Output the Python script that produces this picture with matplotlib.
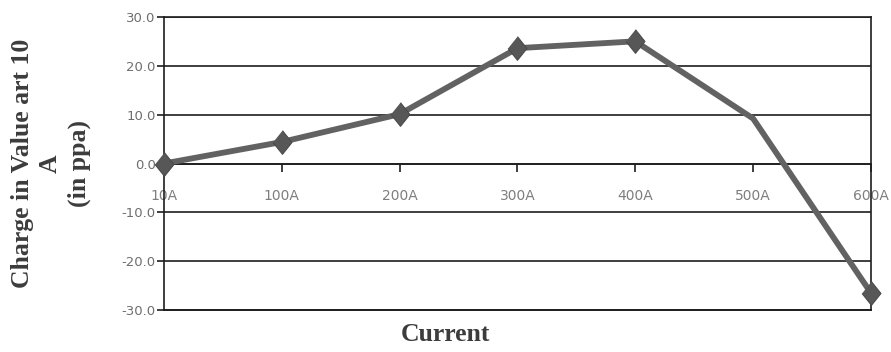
import numpy as np
from matplotlib import pyplot as plt

# data
currents = ['10A', '100A', '200A', '300A', '400A', '500A', '600A']
change = [0.0, 4.4, 10.1, 23.6, 25.0, 9.2, -26.5]
y_ticks = [-30, -20, -10, 0, 10, 20, 30]

LINE_C = '#626262'
GRID_C = '#1e1e1e'
TEXT_C = '#3c3c3c'

fig = plt.figure(figsize=(8.91, 3.52), dpi=100)
ax = fig.add_axes([0.184, 0.119, 0.7935, 0.833])

x = np.arange(len(currents))
diamond = [(0, 1), (0.8, 0), (0, -1), (-0.8, 0)]
# the scan shows no marker at 500A
ax.plot(x, change, color=LINE_C, lw=4.2, marker=diamond, ms=17,
        mfc='#575757', mec='#4a4a4a', mew=0.8,
        markevery=[0, 1, 2, 3, 4, 6], zorder=5, clip_on=False)

ax.set_xlim(0, len(currents) - 1)
ax.set_ylim(-30, 30)
ax.set_yticks(y_ticks)
ax.set_yticklabels([f'{v:.1f}' for v in y_ticks], fontsize=9.5)
ax.set_xticks(x)
ax.set_xticklabels(currents, fontsize=9.5)

ax.grid(axis='y', color=GRID_C, lw=1.2)
ax.spines['bottom'].set_position(('data', 0))
for s in ax.spines.values():
    s.set_color(GRID_C)
    s.set_linewidth(1.2)
ax.tick_params(axis='y', length=5, width=1.2, color=GRID_C, labelcolor='#6e6e6e', pad=1)
ax.tick_params(axis='x', length=6, width=1.2, color=GRID_C, labelcolor='#7e7e7e',
               direction='out', pad=12)
ax.axhline(-30, color=GRID_C, lw=1.4, clip_on=False)

fig.text(0.057, 0.536, 'Charge in Value art 10\nA\n(in ppa)', rotation=90,
         ha='center', va='center', family='Liberation Serif', fontweight='bold',
         fontsize=18.5, color=TEXT_C, linespacing=1.3)
fig.text(0.5, 0.051, 'Current', ha='center', va='center', family='Liberation Serif',
         fontweight='bold', fontsize=18.5, color=TEXT_C)

fig.savefig('out.png', dpi=100)
